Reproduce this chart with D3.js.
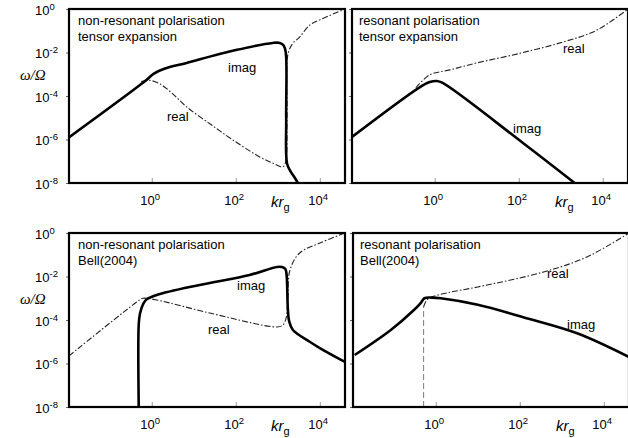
<!DOCTYPE html>
<html><head><meta charset="utf-8">
<script src="https://cdn.jsdelivr.net/npm/d3@7"></script>
<style>
body{margin:0;background:#fff;}
svg{display:block;font-family:"Liberation Sans",Arial,sans-serif;}
</style></head>
<body><svg id="c" width="628" height="438"></svg>
<script>
// values are [log10(k r_g), log10(omega/Omega)]
const xTicks = [0, 2, 4];
const yTicks = [0, -2, -4, -6, -8];
const xTickLabels = ["0", "2", "4"];
const yTickLabels = ["0", "-2", "-4", "-6", "-8"];

const tlTitle = ["non-resonant polarisation", "tensor expansion"];
const trTitle = ["resonant polarisation", "tensor expansion"];
const blTitle = ["non-resonant polarisation", "Bell(2004)"];
const brTitle = ["resonant polarisation", "Bell(2004)"];

const tlImag = [[-1.97,-5.9],[-0.15,-3.3],[0.05,-2.97],[0.3,-2.75],[0.83,-2.48],[2.0,-1.89],[2.88,-1.56],[3.05,-1.56],[3.14,-1.68],[3.19,-2.0],[3.2,-5.0],[3.22,-7.1],[3.3,-7.45],[3.4,-7.75],[3.48,-8]];
const tlReal = [[-0.25,-3.34],[-0.05,-3.28],[0.2,-3.45],[0.5,-3.9],[0.83,-4.5],[1.4,-5.3],[1.93,-6.02],[2.57,-6.8],[2.9,-7.1],[3.12,-7.26],[3.19,-7.0],[3.22,-5.0],[3.24,-2.1],[3.35,-1.6],[3.52,-1.29],[3.76,-0.74],[4.0,-0.5],[4.6,0]];

const trImag = [[-1.97,-5.88],[-0.36,-3.6],[-0.12,-3.36],[0.05,-3.31],[0.19,-3.4],[2.1,-6.16],[3.33,-8]];
const trReal = [[-0.45,-3.62],[-0.12,-3.03],[0.36,-2.8],[1.0,-2.48],[2.0,-2.05],[3.05,-1.52],[3.85,-0.98],[4.6,0]];

const blImag = [[-0.31,-8],[-0.31,-4.2],[-0.28,-3.7],[-0.2,-3.25],[-0.12,-3.05],[0.12,-2.85],[1.14,-2.39],[2.33,-1.93],[2.98,-1.56],[3.1,-1.56],[3.18,-1.65],[3.21,-1.93],[3.24,-3.5],[3.27,-4.05],[3.36,-4.46],[3.76,-5.0],[4.0,-5.29],[4.6,-5.93]];
const blReal = [[-1.97,-5.65],[-0.29,-3.08],[-0.21,-3.0],[0.12,-3.08],[1.38,-3.68],[2.98,-4.32],[3.12,-4.23],[3.2,-3.9],[3.24,-3.0],[3.29,-1.7],[3.52,-0.92],[4.0,-0.46],[4.6,0]];

const brImag = [[-1.93,-5.61],[-1.07,-4.46],[-0.52,-3.54],[-0.36,-3.22],[-0.27,-3.0],[-0.1,-2.97],[0.12,-3.0],[1,-3.3],[2.1,-3.88],[3.38,-4.62],[4.6,-5.7]];
const brRealCut = [[-0.29,-8],[-0.29,-3.4]];
const brReal = [[-0.29,-3.4],[-0.22,-3.1],[-0.12,-2.96],[0.3,-2.74],[1,-2.48],[2.57,-1.79],[3.6,-1.1],[4.6,0]];

const svg = d3.select("#c");

const panels = [
  {x:69, y:9, title:tlTitle, imag:tlImag, real:tlReal, left:true,
   imagLab:[228,72], realLab:[167,121], ylab:true},
  {x:352, y:9, title:trTitle, imag:trImag, real:trReal, left:false,
   imagLab:[513,133], realLab:[563,53]},
  {x:69, y:233, title:blTitle, imag:blImag, real:blReal, left:true,
   imagLab:[237,290], realLab:[208,334], ylab:true},
  {x:353, y:233, title:brTitle, imag:brImag, real:brReal, cut:brRealCut, left:false,
   imagLab:[567,329], realLab:[547,278]}
];

const W = 276, H = 174;

panels.forEach(p => {
  const g = svg.append("g").attr("transform", `translate(${p.x},${p.y})`);
  const x = d3.scaleLog().domain([Math.pow(10,-1.97), Math.pow(10,4.6)]).range([0, W]);
  const y = d3.scaleLog().domain([1e-8, 1]).range([H, 0]);
  const line = d3.line().curve(d3.curveCatmullRom.alpha(0.5))
    .x(d => x(Math.pow(10,d[0]))).y(d => y(Math.pow(10,d[1])));

  // x axis ticks (inward)
  const xa = g.append("g").attr("transform", `translate(0,${H})`)
    .call(d3.axisBottom(x).tickValues(xTicks.map(v=>Math.pow(10,v))).tickSizeInner(-5).tickSizeOuter(0).tickFormat(""));
  xa.select(".domain").remove();
  xa.selectAll(".tick line").attr("stroke","#999").attr("stroke-width",1);
  xa.selectAll(".tick").each(function(d,i){
    const t = d3.select(this).append("text").attr("x",-12).attr("y",22)
      .attr("fill","#000").attr("font-size","13px").attr("text-anchor","start");
    t.append("tspan").text("10");
    t.append("tspan").attr("dy",-5).attr("font-size","9.5px").text(xTickLabels[i]);
  });

  // y axis ticks (outward)
  const ya = g.append("g")
    .call(d3.axisLeft(y).tickValues(yTicks.map(v=>Math.pow(10,v))).tickSizeInner(3).tickSizeOuter(0).tickFormat(""));
  ya.select(".domain").remove();
  ya.selectAll(".tick line").attr("stroke","#666").attr("stroke-width",1);
  if (p.left) {
    ya.selectAll(".tick").each(function(d,i){
      const t = d3.select(this).append("text").attr("x",-34).attr("y",5)
        .attr("fill","#000").attr("font-size","13px").attr("text-anchor","start");
      t.append("tspan").text("10");
      t.append("tspan").attr("dy",-5).attr("font-size","9.5px").text(yTickLabels[i]);
    });
  }

  g.append("defs").append("clipPath").attr("id","cp"+p.x+p.y)
    .append("rect").attr("width",W).attr("height",H);
  const pg = g.append("g").attr("clip-path",`url(#cp${p.x}${p.y})`);

  if (p.cut) {
    pg.append("path").attr("d", line(p.cut)).attr("fill","none")
      .attr("stroke","#888").attr("stroke-width",1.1).attr("stroke-dasharray","6,3");
  }
  pg.append("path").attr("d", line(p.real)).attr("fill","none")
    .attr("stroke","#222").attr("stroke-width",1.1).attr("stroke-dasharray","6,2,1.5,2");
  pg.append("path").attr("d", line(p.imag)).attr("fill","none")
    .attr("stroke","#000").attr("stroke-width",2.6).attr("stroke-linejoin","round");

  // frame
  g.append("rect").attr("width",W).attr("height",H).attr("fill","none")
    .attr("stroke","#000").attr("stroke-width",2.2);

  // titles
  p.title.forEach((s,i) => {
    g.append("text").attr("x", p.left ? 9 : 7).attr("y", 16 + i*16)
      .attr("font-size","13px").attr("fill","#000").text(s);
  });

  // axis label kr_g
  const kt = g.append("text").attr("x", p.left ? 202 : 203).attr("y", H + 24)
    .attr("font-size","15px").attr("fill","#000");
  kt.append("tspan").attr("font-style","italic").text("kr");
  kt.append("tspan").attr("dy",4).attr("font-size","11px").text("g");
});

// series labels
panels.forEach(p => {
  svg.append("text").attr("x",p.imagLab[0]).attr("y",p.imagLab[1]).attr("font-size","13px").text("imag");
  svg.append("text").attr("x",p.realLab[0]).attr("y",p.realLab[1]).attr("font-size","13px").text("real");
  if (p.ylab) {
    svg.append("text").attr("x",20).attr("y",p.y+71)
      .attr("font-family","'Liberation Serif','Times New Roman',serif")
      .attr("font-style","italic").attr("font-size","15px").text("ω/Ω");
  }
});
</script></body></html>
